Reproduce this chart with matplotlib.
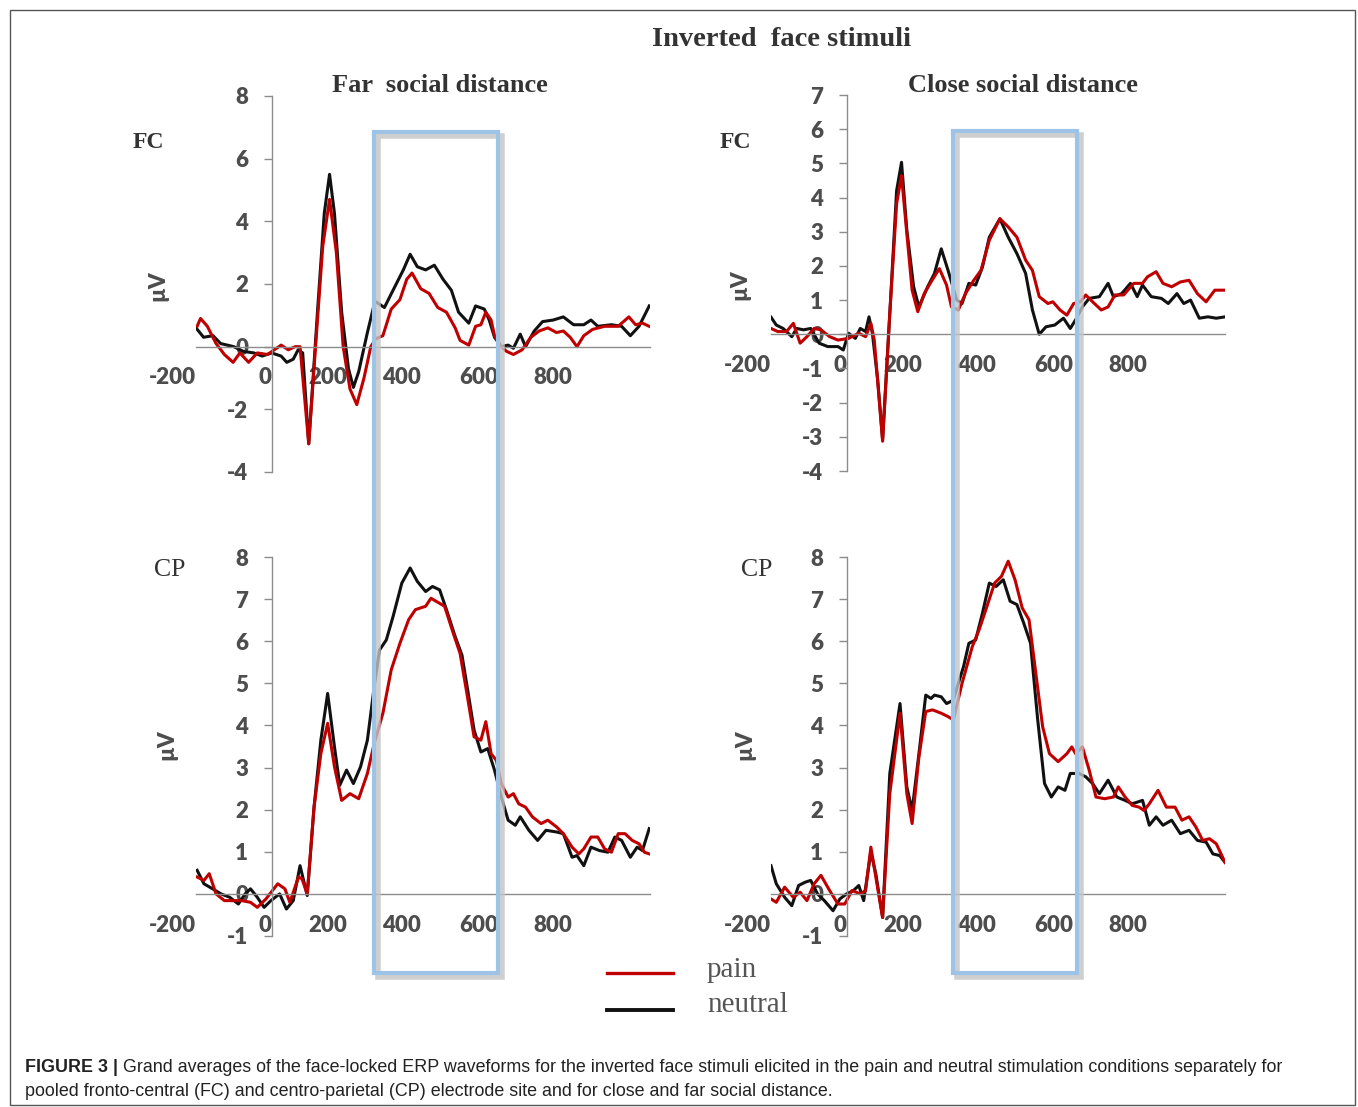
import matplotlib
matplotlib.use("Agg")
import matplotlib.pyplot as plt
from matplotlib.lines import Line2D
from matplotlib.patches import Rectangle
from matplotlib.transforms import ScaledTranslation

# ---- data: time (ms) and amplitude (µV) ----
far_fc_t_neutral = [-200, -180, -155, -135, -100, -75, -47, -25, 0, 25, 40, 57, 70, 82, 98,
                    121, 139, 153, 166, 185, 203, 216, 230, 253, 273, 298, 325, 348, 366, 385,
                    407, 430, 453, 475, 494, 521, 539, 562, 575, 589, 607, 625, 639, 657, 671,
                    694, 716, 744, 771, 798, 825, 844, 862, 898, 925, 948, 971, 998]
far_fc_neutral = [0.6, 0.3, 0.35, 0.1, 0, -0.15, -0.2, -0.3, -0.2, -0.3, -0.5, -0.4, -0.1, -0.2, -3.1,
                  1.1, 4.25, 5.5, 4.25, 1.1, -0.7, -1.3, -0.8, 0.45, 1.45, 1.25, 1.9, 2.45, 2.95, 2.55,
                  2.45, 2.6, 2.15, 1.8, 1.1, 0.75, 1.3, 1.2, 0.85, 0.3, 0, 0.05, -0.05, 0.4, 0,
                  0.5, 0.8, 0.85, 0.95, 0.7, 0.7, 0.85, 0.65, 0.7, 0.65, 0.35, 0.65, 1.3]
far_fc_t_pain = [-197, -188, -170, -147, -125, -102, -84, -61, -38, -11, 25, 44, 62, 75, 98,
                 116, 135, 153, 171, 189, 207, 225, 244, 262, 275, 294, 316, 339, 357, 371,
                 394, 416, 439, 462, 485, 498, 521, 539, 553, 566, 580, 589, 607, 621, 639,
                 662, 685, 707, 730, 753, 771, 789, 807, 825, 848, 880, 916, 944, 962, 980, 998]
far_fc_pain = [0.65, 0.9, 0.65, 0.1, -0.25, -0.5, -0.2, -0.5, -0.2, -0.25, 0.05, -0.1, 0, 0, -3.1,
               0, 3.2, 4.7, 3.0, 0, -1.35, -1.85, -1.0, 0, 0.25, 0.35, 1.2, 1.5, 2.15, 2.35,
               1.85, 1.7, 1.25, 1.1, 0.6, 0.2, 0.05, 0.65, 0.7, 1.1, 0.85, 0.35, 0, -0.15, -0.25,
               -0.1, 0.3, 0.5, 0.6, 0.45, 0.5, 0.3, 0, 0.35, 0.55, 0.65, 0.65, 0.95, 0.7, 0.75, 0.65]

close_fc_t_neutral = [-200, -186, -168, -145, -132, -114, -95, -73, -50, -23, -9, 5, 23, 36, 50,
                      59, 68, 82, 95, 114, 132, 145, 159, 177, 191, 214, 232, 250, 268, 291,
                      305, 323, 341, 359, 377, 405, 427, 450, 473, 491, 509, 527, 550, 573, 591,
                      605, 623, 641, 668, 691, 705, 727, 750, 768, 782, 805, 832, 850, 873, 891,
                      909, 932, 955, 977, 1000]
close_fc_neutral = [0.5, 0.27, 0.17, -0.07, 0.17, 0.13, 0.17, -0.26, -0.36, -0.36, -0.46, 0.03, -0.12, 0.17, 0.08,
                    0.51, 0.03, -1.33, -3.08, 0.61, 4.2, 5.03, 3.05, 1.39, 0.8, 1.39, 1.78, 2.5, 1.87, 1.0,
                    0.9, 1.49, 1.44, 1.97, 2.84, 3.38, 2.84, 2.36, 1.78, 0.71, 0, 0.22, 0.27, 0.47, 0.17,
                    0.42, 0.8, 1.05, 1.1, 1.49, 1.1, 1.19, 1.49, 1.1, 1.44, 1.1, 1.05, 0.9, 1.19, 0.9,
                    1.0, 0.47, 0.51, 0.47, 0.51]
close_fc_t_pain = [-200, -182, -159, -141, -123, -105, -86, -68, -45, -23, 5, 32, 50, 64, 73,
                   95, 114, 132, 145, 159, 173, 188, 205, 223, 245, 264, 277, 295, 314, 336,
                   355, 377, 405, 427, 450, 473, 491, 509, 532, 545, 564, 582, 600, 618, 632,
                   650, 673, 691, 709, 732, 759, 782, 795, 818, 836, 859, 882, 905, 927, 950,
                   973, 1000]
close_fc_pain = [0.17, 0.08, 0.08, 0.32, -0.26, -0.07, 0.17, 0.13, -0.07, -0.17, -0.12, 0.03, -0.07, 0.32, -0.17,
                 -3.13, 0.61, 3.82, 4.64, 2.95, 1.29, 0.66, 1.19, 1.53, 1.92, 1.44, 0.8, 0.71, 1.19, 1.58,
                 1.87, 2.75, 3.38, 3.14, 2.84, 2.17, 1.87, 1.1, 0.9, 0.95, 0.71, 0.56, 0.9, 0.95, 1.15,
                 0.95, 0.71, 0.8, 1.15, 1.15, 1.49, 1.49, 1.68, 1.83, 1.49, 1.39, 1.53, 1.58, 1.19, 0.95,
                 1.29, 1.29]

far_cp_t_neutral = [-197, -179, -156, -134, -111, -88, -70, -56, -38, -20, -2, 21, 39, 57, 75,
                    94, 112, 130, 148, 166, 180, 198, 216, 235, 253, 271, 285, 303, 321, 344,
                    366, 385, 407, 425, 444, 462, 485, 503, 521, 535, 553, 571, 589, 607, 625,
                    644, 657, 680, 703, 725, 753, 771, 794, 807, 825, 844, 866, 889, 907, 925,
                    948, 966, 980, 998]
far_cp_neutral = [0.56, 0.24, 0.12, 0, -0.08, -0.24, 0, 0.12, -0.08, -0.32, -0.16, 0, -0.36, -0.16, 0.67,
                  -0.04, 2.06, 3.65, 4.76, 3.49, 2.58, 2.94, 2.62, 3.02, 3.65, 4.92, 5.79, 6.03, 6.59, 7.38,
                  7.74, 7.42, 7.18, 7.3, 7.22, 6.75, 6.11, 5.67, 4.68, 3.89, 3.37, 3.45, 2.94, 2.3, 1.75,
                  1.63, 1.83, 1.51, 1.27, 1.51, 1.47, 1.43, 0.87, 0.91, 0.67, 1.11, 1.03, 0.99, 1.35, 1.27,
                  0.87, 1.11, 1.03, 1.55]
far_cp_t_pain = [-197, -179, -165, -147, -125, -102, -79, -56, -38, -15, 16, 35, 48, 71, 80,
                 94, 112, 130, 148, 166, 185, 207, 230, 253, 271, 294, 316, 339, 362, 380,
                 407, 421, 444, 457, 480, 498, 516, 535, 553, 566, 580, 594, 607, 625, 639,
                 653, 671, 689, 712, 730, 753, 771, 794, 812, 825, 844, 862, 880, 898, 916,
                 934, 953, 971, 985, 998]
far_cp_pain = [0.4, 0.32, 0.48, 0, -0.16, -0.16, -0.16, -0.2, -0.32, -0.12, 0.24, 0.12, -0.2, 0.4, 0.36,
               0, 2.06, 3.33, 4.05, 3.02, 2.22, 2.38, 2.26, 2.86, 3.57, 4.29, 5.32, 5.95, 6.51, 6.75,
               6.83, 7.02, 6.9, 6.83, 6.19, 5.71, 4.76, 3.73, 3.65, 4.09, 3.33, 3.17, 2.62, 2.3, 2.38,
               2.14, 2.06, 1.83, 1.67, 1.75, 1.59, 1.43, 1.11, 0.95, 1.07, 1.35, 1.35, 1.07, 0.99, 1.43,
               1.43, 1.27, 1.19, 0.99, 0.95]

close_cp_t_neutral = [-200, -186, -164, -145, -127, -109, -95, -77, -59, -36, -18, 0, 18, 32, 45,
                      64, 77, 95, 114, 141, 159, 173, 191, 209, 223, 232, 250, 264, 282, 291,
                      309, 323, 341, 359, 377, 395, 414, 432, 450, 468, 486, 505, 523, 541, 559,
                      577, 591, 614, 632, 650, 668, 691, 714, 736, 755, 782, 800, 818, 836, 859,
                      882, 905, 927, 950, 968, 986, 1000]
close_cp_neutral = [0.67, 0.24, -0.08, -0.28, 0.2, 0.28, 0.32, 0, -0.16, -0.4, -0.12, 0, 0.08, 0.2, -0.16,
                    1.0, 0.48, -0.56, 2.86, 4.52, 2.54, 1.98, 3.33, 4.72, 4.64, 4.72, 4.68, 4.52, 4.6, 4.88,
                    5.4, 5.95, 6.03, 6.67, 7.38, 7.3, 7.46, 6.95, 6.87, 6.43, 5.95, 4.13, 2.62, 2.3, 2.54,
                    2.46, 2.86, 2.86, 2.78, 2.62, 2.38, 2.7, 2.3, 2.22, 2.14, 2.22, 1.63, 1.83, 1.63, 1.75,
                    1.43, 1.51, 1.27, 1.23, 0.95, 0.91, 0.75]
close_cp_t_pain = [-200, -186, -164, -141, -123, -105, -86, -68, -45, -23, -5, 14, 36, 50, 64,
                   77, 95, 114, 141, 159, 173, 191, 209, 227, 250, 268, 282, 305, 332, 350,
                   368, 391, 409, 427, 445, 464, 482, 500, 518, 536, 559, 582, 595, 605, 623,
                   641, 659, 682, 705, 718, 736, 755, 773, 786, 800, 823, 845, 868, 886, 905,
                   923, 941, 959, 977, 1000]
close_cp_pain = [-0.12, -0.2, 0.16, -0.08, 0.04, -0.16, 0.24, 0.44, 0.08, -0.24, -0.24, 0.08, 0, 0.08, 1.11,
                 0.4, -0.56, 2.38, 4.29, 2.38, 1.67, 3.25, 4.33, 4.37, 4.29, 4.21, 4.13, 5.0, 5.87, 6.27,
                 6.75, 7.38, 7.54, 7.9, 7.46, 6.79, 6.51, 5.24, 3.97, 3.33, 3.14, 3.33, 3.49, 3.33, 3.49,
                 2.94, 2.3, 2.26, 2.3, 2.54, 2.3, 2.1, 2.06, 1.98, 2.14, 2.46, 2.06, 2.06, 1.75, 1.83,
                 1.59, 1.27, 1.31, 1.19, 0.75]

x_ticks = [-200, 0, 200, 400, 600, 800]
x_tick_labels = ["-200", "0", "200", "400", "600", "800"]
x_tick_marks = [-200, 200, 400, 600, 800]

# ---- layout helpers (pixel coords of the reference, origin top-left) ----
W, H = 1358, 1107
fig = plt.figure(figsize=(W / 100, H / 100), dpi=100)
fig.patch.set_facecolor("white")


def fx(x):
    return x / W


def fy(y):
    return 1 - y / H


def fbox(l, t, r, b):
    return [l / W, 1 - b / H, (r - l) / W, (b - t) / H]


RED = "#c00000"
BLACK = "#111111"
AXIS = "#8c8c8c"
TICK_TXT = "#4d4d4d"
tick_font = dict(family="Lato", weight="heavy", size=16, color=TICK_TXT)
serif = "Liberation Serif"

panels = [
    (fbox(196, 96, 650, 472), (-4, 8), [-4, -2, 0, 2, 4, 6, 8],
     far_fc_t_neutral, far_fc_neutral, far_fc_t_pain, far_fc_pain),
    (fbox(771, 95, 1225, 471), (-4, 7), list(range(-4, 8)),
     close_fc_t_neutral, close_fc_neutral, close_fc_t_pain, close_fc_pain),
    (fbox(196, 557, 650, 936), (-1, 8), list(range(-1, 9)),
     far_cp_t_neutral, far_cp_neutral, far_cp_t_pain, far_cp_pain),
    (fbox(771, 557, 1225, 936), (-1, 8), list(range(-1, 9)),
     close_cp_t_neutral, close_cp_neutral, close_cp_t_pain, close_cp_pain),
]

# Excel puts the x labels a bit left of the tick marks
label_shift_px = [-24, -7, -20, -21, -20, -22]

for rect, ylim, yticks, tn, vn, tp, vp in panels:
    ax = fig.add_axes(rect)
    ax.set_facecolor("none")
    ax.plot(tn, vn, color=BLACK, linewidth=2.2, solid_joinstyle="round")
    ax.plot(tp, vp, color=RED, linewidth=2.2, solid_joinstyle="round")
    ax.set_xlim(-200, 1000)
    ax.set_ylim(*ylim)

    for s in ["top", "right"]:
        ax.spines[s].set_visible(False)
    ax.spines["left"].set_position(("data", 0))
    ax.spines["bottom"].set_position(("data", 0))
    for s in ["left", "bottom"]:
        ax.spines[s].set_color(AXIS)
        ax.spines[s].set_linewidth(1.0)

    ax.set_yticks(yticks)
    ax.set_yticklabels([str(v) for v in yticks], fontdict=tick_font)
    ax.tick_params(axis="y", direction="out", length=6, width=1, color=AXIS, pad=11)

    ax.set_xticks(x_ticks)
    ax.set_xticklabels(x_tick_labels, fontdict=tick_font)
    ax.set_xticks(x_tick_marks, minor=True)
    ax.tick_params(axis="x", which="major", length=0, pad=15)
    ax.tick_params(axis="x", which="minor", direction="out", length=4.5, width=1, color=AXIS)
    for tick, dx in zip(ax.xaxis.get_major_ticks(), label_shift_px):
        tick.label1.set_transform(tick.label1.get_transform()
                                  + ScaledTranslation(dx / 100, 0, fig.dpi_scale_trans))

# ---- texts ----
fig.text(fx(782), fy(39), "Inverted  face stimuli", ha="center", va="center",
         family=serif, weight="bold", size=20.5, color="#333333")
fig.text(fx(440), fy(85), "Far  social distance", ha="center", va="center",
         family=serif, weight="bold", size=19, color="#333333")
fig.text(fx(1023), fy(85), "Close social distance", ha="center", va="center",
         family=serif, weight="bold", size=19, color="#333333")

for x, y, s, w, sz in [(148, 142, "FC", "bold", 17), (735, 142, "FC", "bold", 17),
                       (170, 570, "CP", "normal", 18.5), (757, 570, "CP", "normal", 18.5)]:
    fig.text(fx(x), fy(y), s, ha="center", va="center", family=serif,
             weight=w, size=sz, color="#333333")

for x, y in [(158, 286), (740, 285), (167, 745), (745, 745)]:
    fig.text(fx(x), fy(y), "µV", ha="center", va="center", rotation=90,
             family="Lato", weight="heavy", size=16, color=TICK_TXT)

# ---- highlighted time window boxes ----
for l, t, r, b in [(374, 132, 498, 973), (953, 131, 1077, 973)]:
    shadow = Rectangle((fx(l + 4), fy(b + 4)), (r - l) / W, (b - t) / H,
                       transform=fig.transFigure, fill=False,
                       edgecolor="#c4c4c4", linewidth=4, alpha=0.8, zorder=5)
    fig.add_artist(shadow)
    box = Rectangle((fx(l), fy(b)), (r - l) / W, (b - t) / H,
                    transform=fig.transFigure, fill=False,
                    edgecolor="#9dc3e6", linewidth=3, zorder=6)
    fig.add_artist(box)

# ---- legend ----
fig.add_artist(Line2D([fx(607), fx(673)], [fy(973), fy(973)], transform=fig.transFigure,
                      color=RED, linewidth=2.4))
fig.add_artist(Line2D([fx(607), fx(673)], [fy(1010), fy(1010)], transform=fig.transFigure,
                      color=BLACK, linewidth=2.8))
fig.text(fx(707), fy(970), "pain", ha="left", va="center", family=serif, size=21, color="#555555")
fig.text(fx(707), fy(1005), "neutral", ha="left", va="center", family=serif, size=21, color="#555555")

# ---- outer frame ----
fig.add_artist(Rectangle((fx(10), fy(1105)), 1345 / W, 1095 / H, transform=fig.transFigure,
                         fill=False, edgecolor="#555555", linewidth=1.0))

# ---- caption ----
cap_font = dict(family="Liberation Sans", size=12.9, color="#222222")
head = fig.text(fx(25), fy(1067), "FIGURE 3 |", ha="left", va="center", weight="bold", **cap_font)
renderer = fig.canvas.get_renderer()
bb = head.get_window_extent(renderer)
fig.text((bb.x1 + 5) / W, fy(1067),
         "Grand averages of the face-locked ERP waveforms for the inverted face stimuli elicited in "
         "the pain and neutral stimulation conditions separately for",
         ha="left", va="center", **cap_font)
fig.text(fx(25), fy(1091),
         "pooled fronto-central (FC) and centro-parietal (CP) electrode site and for close and far social distance.",
         ha="left", va="center", **cap_font)

plt.savefig("out.png", dpi=100, facecolor="white")
